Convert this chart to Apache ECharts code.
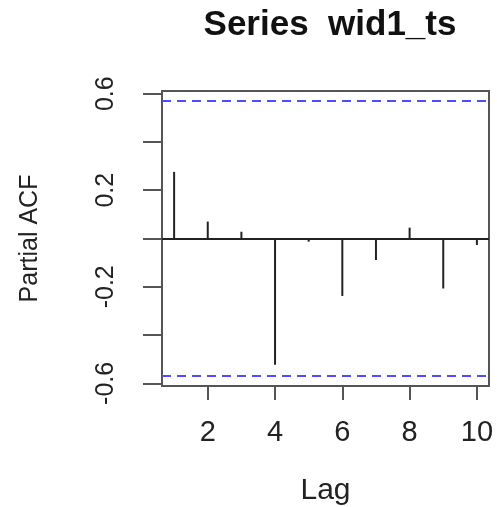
<!DOCTYPE html>
<html>
<head>
<meta charset="utf-8">
<script src="https://cdn.jsdelivr.net/npm/echarts@6/dist/echarts.min.js"></script>
<style>
html,body{margin:0;padding:0;background:#fff;}
#c{width:497px;height:507px;}
</style>
</head>
<body>
<div id="c"></div>
<script>
var lags = [1, 2, 3, 4, 5, 6, 7, 8, 9, 10];
var pacf = [0.276, 0.070, 0.028, -0.523, -0.013, -0.238, -0.089, 0.045, -0.207, -0.027];
var clim = 0.5658;
var xTicks = [2, 4, 6, 8, 10];
var yTicks = [-0.6, -0.4, -0.2, 0, 0.2, 0.4, 0.6];
var yLabels = [-0.6, -0.2, 0.2, 0.6];
var titleText = 'Series  wid1_ts';
var xName = 'Lag';
var yName = 'Partial ACF';

var font = '"Liberation Sans", Arial, sans-serif';
var chart = echarts.init(document.getElementById('c'), null, {renderer: 'canvas'});
var seriesData = lags.map(function (l, i) { return [l, pacf[i]]; });

chart.setOption({
  animation: false,
  backgroundColor: '#fff',
  title: {
    text: titleText,
    left: 325,
    top: 3,
    textAlign: 'center',
    textStyle: {fontFamily: font, fontWeight: 'bold', fontSize: 35, color: '#111'}
  },
  grid: {
    left: 162, right: 8, top: 91, bottom: 121,
    outerBoundsMode: 'none',
    containLabel: false,
    show: true, borderColor: '#555', borderWidth: 2, backgroundColor: 'transparent'
  },
  xAxis: {
    type: 'value',
    min: 0.64, max: 10.36,
    name: xName,
    nameLocation: 'middle',
    nameGap: 90,
    nameTextStyle: {fontFamily: font, fontSize: 30, color: '#222'},
    axisLine: {show: false, onZero: false},
    splitLine: {show: false},
    axisTick: {show: true, length: 14, customValues: xTicks, lineStyle: {color: '#555', width: 2}},
    axisLabel: {customValues: xTicks, margin: 32, fontFamily: font, fontSize: 29, color: '#222'}
  },
  yAxis: {
    type: 'value',
    min: -0.611, max: 0.611,
    name: yName,
    nameLocation: 'middle',
    nameRotate: 90,
    nameGap: 119,
    nameTextStyle: {fontFamily: font, fontSize: 25, color: '#222'},
    axisLine: {show: false, onZero: false},
    splitLine: {show: false},
    axisTick: {show: true, length: 19, customValues: yTicks, lineStyle: {color: '#555', width: 2}},
    axisLabel: {customValues: yLabels, rotate: 90, margin: 43, fontFamily: font, fontSize: 25, color: '#222',
      formatter: function (v) { return String(v); }}
  },
  series: [{
    type: 'custom',
    data: seriesData,
    renderItem: function (params, api) {
      var p0 = api.coord([api.value(0), 0]);
      var p1 = api.coord([api.value(0), api.value(1)]);
      return {
        type: 'line',
        shape: {x1: p0[0], y1: p0[1], x2: p1[0], y2: p1[1]},
        style: {stroke: '#222', lineWidth: 2}
      };
    },
    markLine: {
      silent: true,
      symbol: 'none',
      label: {show: false},
      data: [
        {yAxis: 0, lineStyle: {color: '#222', width: 2, type: 'solid'}},
        {yAxis: clim, lineStyle: {color: '#4d4dff', width: 2, type: [9, 6]}},
        {yAxis: -clim, lineStyle: {color: '#4d4dff', width: 2, type: [9, 6]}}
      ]
    }
  }]
});
</script>
</body>
</html>
